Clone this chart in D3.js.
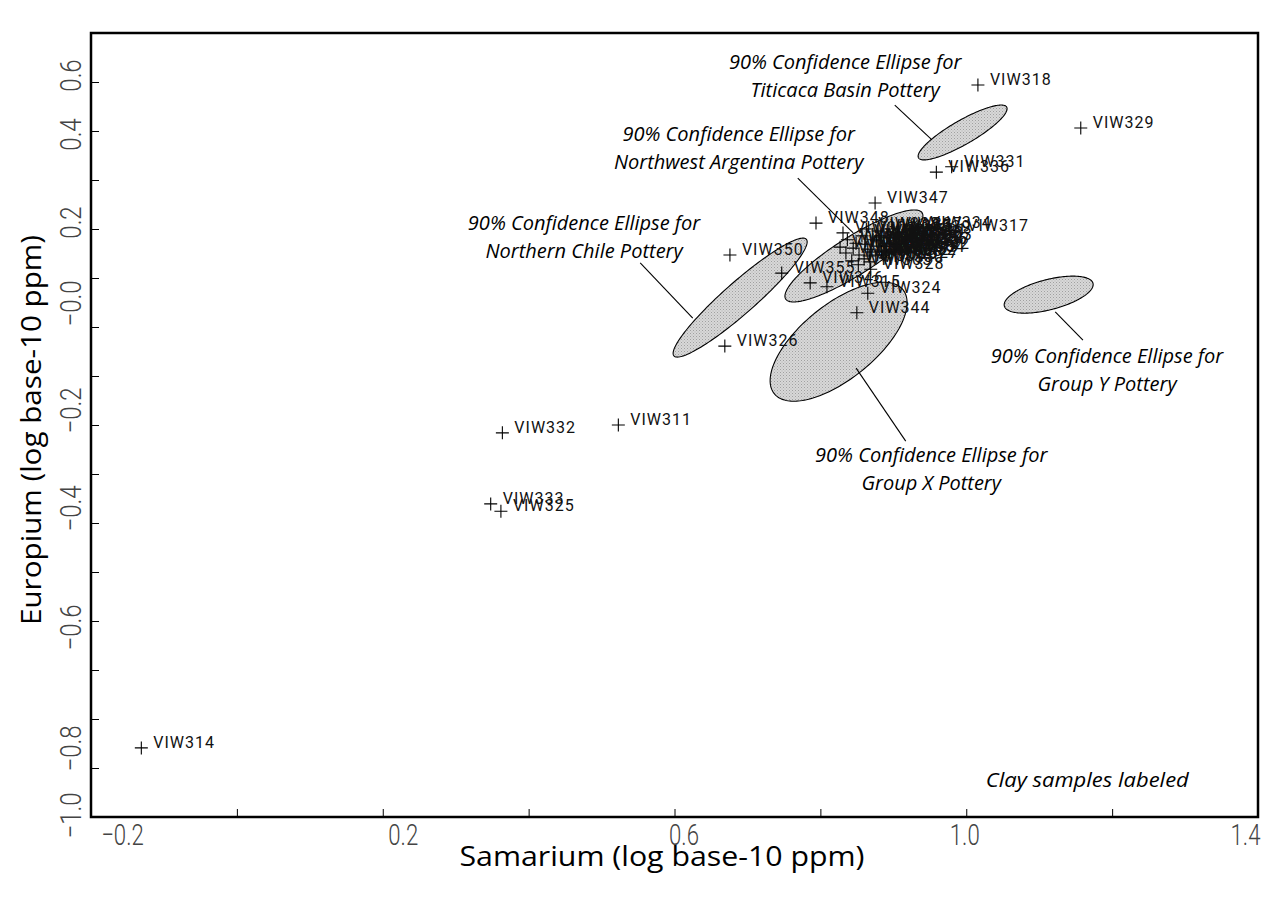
<!DOCTYPE html>
<html><head><meta charset="utf-8">
<script src="https://cdn.jsdelivr.net/npm/d3@7"></script>
<style>body{margin:0;background:#fff}svg{display:block}</style>
</head><body>
<svg id="chart" width="1262" height="901"></svg>
<script>
// ---------- DATA ----------
const sampleNames = [
  "VIW314","VIW332","VIW311","VIW333","VIW325","VIW326","VIW350","VIW355","VIW346","VIW315",
  "VIW324","VIW344","VIW328","VIW347","VIW348","VIW318","VIW329","VIW336","VIW331","VIW334","VIW317",
  "VIW301","VIW302","VIW303","VIW304","VIW305","VIW306","VIW307","VIW308","VIW309","VIW310",
  "VIW312","VIW313","VIW316","VIW319","VIW320","VIW321","VIW322","VIW323","VIW327","VIW330",
  "VIW335","VIW337","VIW338","VIW339","VIW340","VIW356",
  "VIW341","VIW342","VIW343","VIW345","VIW349","VIW351","VIW352","VIW353","VIW354","VIW357",
  "VIW358","VIW359","VIW360"
];
const samarium = [
  -0.131, 0.364, 0.523, 0.348, 0.362, 0.669, 0.676, 0.747, 0.786, 0.809,
  0.865, 0.850, 0.869, 0.875, 0.794, 1.016, 1.157, 0.959, 0.980, 0.934, 0.985,
  0.831, 0.827, 0.835, 0.843, 0.852, 0.860, 0.849, 0.857, 0.865, 0.872,
  0.876, 0.882, 0.887, 0.890, 0.895, 0.900, 0.904, 0.908, 0.889, 0.868,
  0.879, 0.894, 0.863, 0.906, 0.884, 0.901,
  0.837, 0.845, 0.853, 0.861, 0.869, 0.877, 0.886, 0.891, 0.898, 0.905,
  0.896, 0.882, 0.867
];
const europium = [
  -0.859, -0.216, -0.200, -0.361, -0.376, -0.039, 0.147, 0.110, 0.090, 0.082,
  0.069, 0.029, 0.118, 0.253, 0.212, 0.494, 0.406, 0.316, 0.327, 0.202, 0.196,
  0.192, 0.163, 0.151, 0.135, 0.127, 0.139, 0.171, 0.186, 0.159, 0.178,
  0.147, 0.165, 0.182, 0.153, 0.171, 0.188, 0.159, 0.178, 0.141, 0.133,
  0.196, 0.200, 0.200, 0.194, 0.155, 0.169,
  0.178, 0.161, 0.147, 0.169, 0.153, 0.176, 0.147, 0.165, 0.153, 0.169,
  0.182, 0.186, 0.145
];

const xTickValues = [0.0, 0.2, 0.4, 0.6, 0.8, 1.0, 1.2];
const xTickLabels = [-0.2, 0.2, 0.6, 1.0, 1.4];
const yTickValues = [-0.9,-0.8,-0.7,-0.6,-0.5,-0.4,-0.3,-0.2,-0.1,0.0,0.1,0.2,0.3,0.4,0.5];
const yTickLabels = [0.6, 0.4, 0.2, 0.0, -0.2, -0.4, -0.6, -0.8, -1.0];

// 90% confidence ellipses: centre, half-extents and correlation (data units)
const ellipseNames   = ["Titicaca Basin Pottery","Northwest Argentina Pottery","Northern Chile Pottery","Group X Pottery","Group Y Pottery"];
const ellipseCenterX = [0.995, 0.846, 0.690, 0.825, 1.113];
const ellipseCenterY = [0.397, 0.145, 0.060, -0.030, 0.066];
const ellipseHalfX   = [0.061, 0.0946, 0.0919, 0.0939, 0.061];
const ellipseHalfY   = [0.056, 0.0939, 0.1214, 0.1214, 0.0378];
const ellipseCorr    = [0.866, 0.874, 0.937, 0.655, 0.545];

// ---------- LAYOUT ----------
const frame = {left: 91, right: 1258, top: 33, bottom: 817};
const svg = d3.select("#chart");

const x = d3.scaleLinear().domain([-0.2, 1.4]).range([frame.left, frame.right]);
const y = d3.scaleLinear().domain([-1.0, 0.6]).range([frame.bottom, frame.top]);
// tick-label placement as printed in the original figure
const xLab = d3.scaleLinear().domain([-0.2, 1.4]).range([122, 1245]);
const yLab = d3.scaleLinear().domain(yTickLabels).range([75, 134, 222, 303, 410, 508, 627, 748, 815]);

const tickFont = "Roboto, 'Liberation Sans', sans-serif";
const annFont = "'Open Sans', 'Noto Sans', sans-serif";

// ellipses
const ellipses = ellipseNames.map((n, i) => ({n, cx: ellipseCenterX[i], cy: ellipseCenterY[i], hx: ellipseHalfX[i], hy: ellipseHalfY[i], r: ellipseCorr[i]}));
const ellLine = d3.line().x(d => x(d[0])).y(d => y(d[1])).curve(d3.curveLinearClosed);
function ellPts(e) {
  const pts = [], s = Math.sqrt(1 - e.r * e.r);
  for (let k = 0; k < 180; k++) {
    const t = 2 * Math.PI * k / 180;
    pts.push([e.cx + e.hx * Math.cos(t), e.cy + e.hy * (e.r * Math.cos(t) + s * Math.sin(t))]);
  }
  return pts;
}
const defs = svg.append("defs");
const pat = defs.append("pattern").attr("id", "stip").attr("width", 3).attr("height", 3).attr("patternUnits", "userSpaceOnUse");
pat.append("rect").attr("width", 3).attr("height", 3).attr("fill", "#d8d8d8");
pat.append("rect").attr("width", 1).attr("height", 1).attr("fill", "#a0a0a0");
pat.append("rect").attr("x", 1.5).attr("y", 1.5).attr("width", 1).attr("height", 1).attr("fill", "#b0b0b0");

const eg = svg.append("g");
eg.selectAll("path.fill").data(ellipses).join("path").attr("class", "fill")
  .attr("d", e => ellLine(ellPts(e))).attr("fill", "url(#stip)").attr("stroke", "none");
eg.selectAll("path.edge").data(ellipses).join("path").attr("class", "edge")
  .attr("d", e => ellLine(ellPts(e))).attr("fill", "none").attr("stroke", "#000").attr("stroke-width", 1.1);

// frame
svg.append("rect").attr("x", frame.left).attr("y", frame.top)
  .attr("width", frame.right - frame.left).attr("height", frame.bottom - frame.top)
  .attr("fill", "none").attr("stroke", "#000").attr("stroke-width", 2.5);

// inner ticks
svg.append("g").attr("transform", `translate(0,${frame.bottom})`)
  .call(d3.axisTop(x).tickValues(xTickValues).tickSize(8).tickFormat(""))
  .call(g => g.select(".domain").remove())
  .call(g => g.selectAll("line").attr("stroke", "#000").attr("stroke-width", 1));
svg.append("g").attr("transform", `translate(${frame.left},0)`)
  .call(d3.axisRight(y).tickValues(yTickValues).tickSize(8).tickFormat(""))
  .call(g => g.select(".domain").remove())
  .call(g => g.selectAll("line").attr("stroke", "#000").attr("stroke-width", 1));

// tick labels
const fmt = v => (v <= 0 ? "\u2212" : "") + Math.abs(v).toFixed(1);
svg.append("g").attr("transform", `translate(0,845)`)
  .call(d3.axisBottom(xLab).tickValues(xTickLabels).tickSize(0).tickPadding(0).tickFormat(v => (v < 0 ? "\u2212" : "") + Math.abs(v).toFixed(1)))
  .call(g => g.select(".domain").remove())
  .call(g => g.selectAll("text").attr("y", 0).attr("dy", 0).attr("fill", "#444")
     .attr("font-family", tickFont).attr("font-weight", 300).attr("font-size", 30)
     .attr("transform", "scale(0.74,1)"));

svg.append("g").attr("transform", `translate(81,0)`)
  .call(d3.axisLeft(yLab).tickValues(yTickLabels).tickSize(0).tickPadding(0).tickFormat(fmt))
  .call(g => g.select(".domain").remove())
  .call(g => g.selectAll("text").attr("x", 0).attr("dy", 0).attr("fill", "#444")
     .attr("text-anchor", "middle")
     .attr("font-family", tickFont).attr("font-weight", 300).attr("font-size", 30)
     .attr("transform", "rotate(-90) scale(0.8,1)"));

// axis titles
svg.append("text").attr("x", 662).attr("y", 866).attr("text-anchor", "middle")
  .attr("font-family", annFont).attr("font-size", 28).attr("fill", "#000")
  .attr("textLength", 405).attr("lengthAdjust", "spacingAndGlyphs")
  .text("Samarium (log base-10 ppm)");
svg.append("text").attr("transform", "translate(41,430) rotate(-90)").attr("text-anchor", "middle")
  .attr("font-family", annFont).attr("font-size", 28).attr("fill", "#000")
  .attr("textLength", 390).attr("lengthAdjust", "spacingAndGlyphs")
  .text("Europium (log base-10 ppm)");

// points
const pts = sampleNames.map((n, i) => ({n, sm: samarium[i], eu: europium[i]}));
const pg = svg.append("g");
pg.selectAll("path").data(pts).join("path")
  .attr("transform", d => `translate(${x(d.sm)},${y(d.eu)})`)
  .attr("d", "M-6.5,0H6.5M0,-6.5V6.5").attr("stroke", "#000").attr("stroke-width", 1.1).attr("fill", "none");
pg.selectAll("text").data(pts).join("text")
  .attr("x", d => x(d.sm) + 12).attr("y", d => y(d.eu))
  .attr("font-family", tickFont).attr("font-weight", 400).attr("font-size", 16)
  .attr("letter-spacing", 1).attr("fill", "#111")
  .text(d => d.n);

// annotations (anchor points in data units)
const annotations = [
  {lines: ["90% Confidence Ellipse for", "Titicaca Basin Pottery"], at: [0.834, 0.526], from: [0.902, 0.453], to: [0.953, 0.382]},
  {lines: ["90% Confidence Ellipse for", "Northwest Argentina Pottery"], at: [0.688, 0.380], from: [0.769, 0.304], to: [0.845, 0.192]},
  {lines: ["90% Confidence Ellipse for", "Northern Chile Pottery"], at: [0.476, 0.197], from: [0.553, 0.131], to: [0.625, 0.018]},
  {lines: ["90% Confidence Ellipse for", "Group X Pottery"], at: [0.952, -0.2755], from: [0.849, -0.084], to: [0.917, -0.233]},
  {lines: ["90% Confidence Ellipse for", "Group Y Pottery"], at: [1.193, -0.0735], from: [1.122, 0.031], to: [1.160, -0.027]},
];
const ag = svg.append("g");
annotations.forEach(a => {
  ag.append("line").attr("x1", x(a.from[0])).attr("y1", y(a.from[1])).attr("x2", x(a.to[0])).attr("y2", y(a.to[1]))
    .attr("stroke", "#000").attr("stroke-width", 1.1);
  a.lines.forEach((t, j) => {
    ag.append("text").attr("x", x(a.at[0])).attr("y", y(a.at[1]) + j * 28)
      .attr("text-anchor", "middle").attr("font-family", annFont).attr("font-style", "italic")
      .attr("font-size", 20).attr("fill", "#000").text(t);
  });
});
ag.append("text").attr("x", x(1.166)).attr("y", y(-0.939)).attr("text-anchor", "middle")
  .attr("font-family", annFont).attr("font-style", "italic").attr("font-size", 20).attr("fill", "#000")
  .attr("textLength", 203).attr("lengthAdjust", "spacingAndGlyphs")
  .text("Clay samples labeled");
</script>
</body></html>
